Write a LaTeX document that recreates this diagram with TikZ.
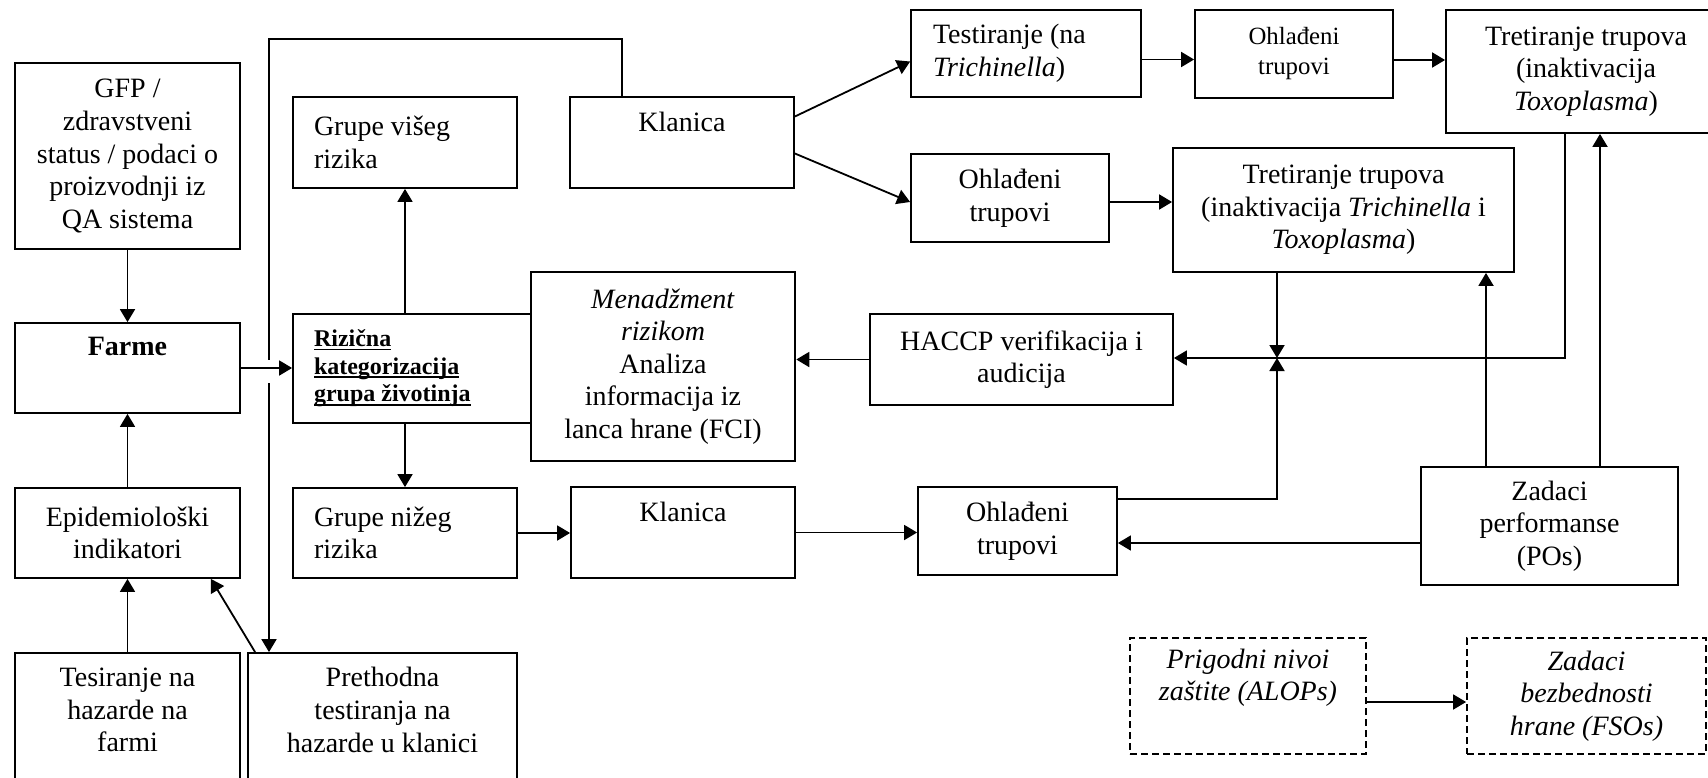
\documentclass[tikz,border=0pt]{standalone}
\usepackage{fontspec}
\setmainfont{Liberation Serif}
\usetikzlibrary{arrows.meta,calc}

% underline at a fixed depth below the baseline
\newcommand\ulx[1]{\leavevmode\setbox0\hbox{#1}\rlap{\rule[-1.8pt]{\wd0}{0.8pt}}\box0}

% box node given by its corners: [options]{name}{x1}{y1}{x2}{y2}{text}
\newcommand\bxnode[7][]{%
  \pgfmathsetmacro\bxcx{(#3+#5)/2}\pgfmathsetmacro\bxcy{(#4+#6)/2}%
  \pgfmathsetmacro\bxw{(#5-#3)*0.5}\pgfmathsetmacro\bxh{(#6-#4)*0.5}%
  \node[bx,minimum width=\bxw pt,minimum height=\bxh pt,#1] (#2) at (\bxcx,\bxcy) {#7};}

\tikzset{
  x=0.5pt, y=-0.5pt,
  bx/.style={draw, line width=0.9pt, inner sep=0pt, align=center,
    font=\fontsize{14}{16.3}\selectfont},
  lbx/.style={align=flush left, text width=#1},
  dbx/.style={dash pattern=on 3.5pt off 2pt, font=\fontsize{14}{16.3}\selectfont\itshape},
  ln/.style={line width=0.9pt},
  arr/.style={ln, -{Triangle[length=6.5pt,width=7.5pt]}},
}

\begin{document}
\begin{tikzpicture}
\useasboundingbox (0,0) rectangle (1708,777);
\fill[white] (0,0) rectangle (1708,777);
\clip (0,0) rectangle (1708,777);

% left column
\bxnode{gfp}{15}{63}{240}{249}{GFP /\\zdravstveni\\status / podaci o\\proizvodnji iz\\QA sistema}
\bxnode{farme}{15}{323}{240}{413}{\textbf{Farme}\\\strut}
\bxnode{epid}{15}{488}{240}{578}{Epidemiološki\\indikatori}
\bxnode{tes}{15}{653}{240}{809}{Tesiranje na\\hazarde na\\farmi\\\strut}
\bxnode{preth}{248}{653}{517}{809}{Prethodna\\testiranja na\\hazarde u klanici\\\strut}

% risk categorisation
\bxnode[lbx=91pt]{gv}{293}{97}{517}{188}{Grupe višeg\\rizika}
\bxnode[lbx=98pt, font=\fontsize{12}{13.8}\selectfont\bfseries]{riz}{293}{314}{531}{423}%
  {\ulx{Rizična}\\\ulx{kategorizacija}\\\ulx{grupa životinja}}
\bxnode[lbx=91pt]{gn}{293}{488}{517}{578}{Grupe nižeg\\rizika}
\bxnode[line width=1.3pt]{men}{531}{272}{795}{461}%
  {\textit{Menadžment}\\\textit{rizikom}\\Analiza\\informacija iz\\lanca hrane (FCI)}

% slaughterhouses and carcasses
\bxnode{kl1}{570}{97}{794}{188}{Klanica\\\strut}
\bxnode{kl2}{571}{487}{795}{578}{Klanica\\\strut}
\bxnode[lbx=93pt]{test}{911}{10}{1141}{97}{Testiranje (na\\\textit{Trichinella})}
\bxnode{ohl2}{911}{154}{1109}{242}{Ohlađeni\\trupovi}
\bxnode[font=\fontsize{12.4}{15}\selectfont]{ohl1}{1195}{10}{1393}{98}{Ohlađeni\\trupovi}
\bxnode{tr1}{1446}{10}{1726}{133}{Tretiranje trupova\\(inaktivacija\\\textit{Toxoplasma})}
\bxnode{tr2}{1173}{148}{1514}{272}{Tretiranje trupova\\(inaktivacija \textit{Trichinella} i\\\textit{Toxoplasma})}
\bxnode{haccp}{870}{314}{1173}{405}{HACCP verifikacija i\\audicija}
\bxnode{ohl3}{918}{487}{1117}{575}{Ohlađeni\\trupovi}
\bxnode{po}{1421}{467}{1678}{585}{Zadaci\\performanse\\(POs)}

% targets
\bxnode[dbx]{alop}{1130}{638}{1366}{754}{Prigodni nivoi\\zaštite (ALOPs)\\\strut}
\bxnode[dbx]{fso}{1467}{638}{1706}{754}{Zadaci\\bezbednosti\\hrane (FSOs)}

% helper points
\coordinate (klt) at ($(kl1.north west)+(53,0)$);
\coordinate (ctl) at (269,39);
\coordinate (gapt) at (269,360);
\coordinate (gapb) at (269,383);
\coordinate (jn) at (1277,358);
\coordinate (rx) at (1565,358);
\coordinate (px1) at (1486,0);
\coordinate (px2) at (1600,0);
\coordinate (o3e) at ($(ohl3.east)+(0,-32)$);
\coordinate (pw) at ($(po.west)+(0,17)$);
\coordinate (ae) at ($(alop.east)+(0,6)$);
\coordinate (o2e) at ($(ohl2.east)+(0,4)$);
\coordinate (te) at ($(test.east)+(0,6)$);
\coordinate (o1e) at ($(ohl1.east)+(0,6)$);

% left column connectors
\draw[arr] (gfp) -- (farme);
\draw[arr] (epid) -- (farme);
\draw[arr] (tes) -- (epid);
\draw[arr] ($(preth.north west)+(8,0)$) -- ($(epid.south east)+(-30,0)$);
\draw[arr] (farme.east) -- (farme.east -| riz.west);

% feedback from the slaughterhouse to preliminary testing
\draw[ln] (klt) -- (klt |- ctl) -- (ctl) -- (gapt);
\draw[arr] (gapb) -- (gapb |- preth.north);

\draw[arr] (riz.north -| gv.south) -- (gv.south);
\draw[arr] (riz.south -| gn.north) -- (gn.north);

% upper chain
\draw[arr] ($(kl1.east)+(0,-26)$) -- ($(test.west)+(0,8)$);
\draw[arr] ($(kl1.east)+(0,11)$) -- ($(ohl2.west)+(0,4)$);
\draw[arr] (te) -- (te -| ohl1.west);
\draw[arr] (o1e) -- (o1e -| tr1.west);
\draw[arr] (o2e) -- (o2e -| tr2.west);

% verification loop
\draw[arr] (tr2.south -| jn) -- (jn);
\draw[arr] (o3e) -- (o3e -| jn) -- (jn);
\draw[arr] (tr1.south -| rx) -- (rx) -- (rx -| haccp.east);
\draw[arr] (haccp.west) -- (haccp.west -| men.east);

% performance objectives
\draw[arr] (po.north -| px1) -- (tr2.south -| px1);
\draw[arr] (po.north -| px2) -- (tr1.south -| px2);
\draw[arr] (pw) -- (pw -| ohl3.east);

% lower chain
\draw[arr] (gn.east) -- (gn.east -| kl2.west);
\draw[arr] (kl2.east) -- (kl2.east -| ohl3.west);

\draw[arr] (ae) -- (ae -| fso.west);
\end{tikzpicture}
\end{document}
